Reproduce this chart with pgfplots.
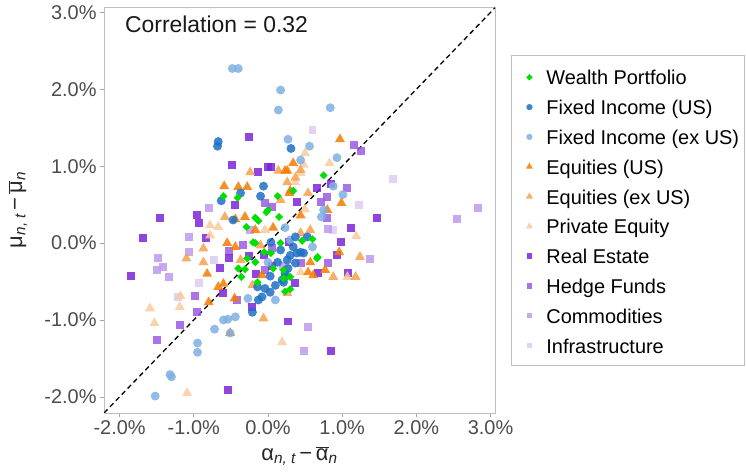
\documentclass[border=0pt]{standalone}
\usepackage{pgfplots}
\pgfplotsset{compat=1.18}
\usepackage{fontspec}
\setmainfont{Liberation Sans}
\definecolor{wp}{HTML}{00E000}
\definecolor{fius}{HTML}{1F6FC5}
\definecolor{fiex}{HTML}{7EB0E3}
\definecolor{equs}{HTML}{F57C00}
\definecolor{eqex}{HTML}{F5A04E}
\definecolor{pe}{HTML}{F9CA9C}
\definecolor{re}{HTML}{7B24D8}
\definecolor{hf}{HTML}{9C5AE4}
\definecolor{co}{HTML}{BE9AEE}
\definecolor{inf}{HTML}{DDCBF3}
\pgfplotsset{
  markleg/.style={legend image code/.code={\path[draw=none,fill=none] (0bp,-1bp) -- (29bp,-1bp); \draw[##1, only marks, mark repeat=2, mark phase=2, every mark/.append style={scale=0.7}] plot coordinates {(0bp,-1bp) (16bp,-1bp) (29bp,-1bp)};}},
  pt/.style={only marks, mark options={fill opacity=0.85, draw opacity=0}, markleg},
}
\begin{document}
\begin{tikzpicture}
\begin{axis}[
  scale only axis, width=391bp, height=406bp,
  xmin=-2.21, xmax=3.06, ymin=-2.21, ymax=3.07,
  xtick={-2,-1,0,1,2,3}, xticklabels={-2.0\%,-1.0\%,0.0\%,1.0\%,2.0\%,3.0\%},
  ytick={-2,-1,0,1,2,3}, yticklabels={-2.0\%,-1.0\%,0.0\%,1.0\%,2.0\%,3.0\%},
  xtick pos=bottom, ytick pos=left,
  tick align=outside, major tick length=4bp,
  tick style={black!35, line width=0.6bp},
  axis line style={black!25, line width=0.8bp},
  ticklabel style={font=\fontsize{20}{24}\selectfont, text=black!70},
  label style={font=\fontsize{22}{26}\selectfont, text=black!85},
  xlabel={α\textsubscript{\itshape n, t}\,−\,$\overline{\mbox{α}}$\textsubscript{\itshape n}},
  ylabel={μ\textsubscript{\itshape n, t}\,−\,$\overline{\mbox{μ}}$\textsubscript{\itshape n}},
  xlabel style={at={(axis description cs:0.5,-0.106)}, anchor=center},
  ylabel style={at={(axis description cs:-0.22,0.5)}, anchor=center},
  legend style={at={(1.041,0.882)}, anchor=north west, draw=black!25, line width=0.8bp,
    font=\fontsize{20}{24}\selectfont, inner xsep=2bp, inner ysep=7.5bp, row sep=2.8bp, column sep=1bp,
    nodes={text height=19bp, text depth=2bp, inner sep=3bp}},
  legend cell align=left,
  reverse legend,
]
\addplot[black, dash pattern=on 5bp off 3.5bp, line width=1.3bp, forget plot, sharp plot, no markers] coordinates {(-2.21,-2.21) (3.06,3.06)};

\addplot[pt, color=inf, mark=square*, mark size=4] coordinates {
(0.60,1.47) (1.23,0.49) (1.69,0.83) (0.87,0.17) (-0.93,-0.52) (-1.21,-0.70) (-0.73,-0.22)};
\addlegendentry{Infrastructure}

\addplot[pt, color=co, mark=square*, mark size=4] coordinates {
(2.55,0.31) (2.83,0.46) (1.37,-0.21) (0.54,-1.09) (0.48,-1.41) (0.81,0.18) (-0.79,0.46)
(-1.07,0.08) (-1.07,-0.12) (-1.48,-0.20) (-1.41,-0.31) (-1.49,-0.35) (-1.33,-0.44) (-0.24,0.17) (0.20,-0.30)};
\addlegendentry{Commodities}

\addplot[pt, color=hf, mark=square*, mark size=4] coordinates {
(1.16,1.28) (1.26,1.20) (1.06,0.72) (0.72,0.53) (0.80,0.60) (0.80,0.33) (-0.33,-0.03) (0.06,-0.07)
(0.81,-0.26) (-0.98,-0.69) (-0.95,-0.90) (-1.19,-1.07) (-1.49,-1.26) (0.44,-0.26) (-0.04,-0.35)
(-0.42,-0.74) (-0.04,0.52) (0.06,0.47) (-0.52,-0.10)};
\addlegendentry{Hedge Funds}

\addplot[pt, color=re, mark=square*, mark size=4] coordinates {
(-0.25,1.38) (-0.49,1.02) (-0.13,0.92) (0.00,0.99) (0.04,0.99) (-0.45,0.49) (-0.95,0.36) (-0.93,0.26)
(-1.45,0.33) (-1.69,0.07) (-0.83,0.07) (-0.25,-0.17) (-0.06,-0.16) (0.29,0.01) (-1.84,-0.43)
(-0.54,-1.91) (-0.64,-0.33) (-0.60,-0.65) (-0.16,-0.40) (-0.21,-0.83) (0.27,-1.02) (0.06,-0.30)
(0.37,-0.52) (0.66,0.72) (0.85,0.77) (0.39,0.53) (1.12,0.20) (0.99,0.01) (1.08,-0.39) (0.68,-0.39)
(0.93,-0.16) (0.85,-1.41) (1.47,0.33) (-0.52,-0.20)};
\addlegendentry{Real Estate}

\addplot[pt, color=pe, mark=triangle*, mark size=5.8] coordinates {
(-0.78,0.23) (-0.67,0.21) (-0.78,0.10) (-1.59,-0.85) (-1.53,-1.04) (-1.19,-0.83) (-1.18,-0.69)
(0.19,-1.29) (-1.09,-1.95) (0.83,1.04) (0.50,0.44) (1.19,0.09) (1.07,-0.44) (0.50,1.17) (0.48,1.02)
(0.37,0.79) (0.44,0.91) (0.44,-0.38) (-0.04,0.17)};
\addlegendentry{Private Equity}

\addplot[pt, color=eqex, mark=triangle*, mark size=5.8] coordinates {
(-0.24,0.92) (0.14,0.94) (-0.58,0.34) (-0.87,-0.07) (-1.10,-0.20) (-0.87,-0.25) (0.44,0.13) (0.54,0.65)
(1.24,-0.18) (0.88,-0.44) (1.18,-0.44) (-0.06,-0.98) (0.26,-0.65) (-0.21,-0.55) (0.37,0.85) (0.44,0.95)
(0.26,0.79) (0.17,0.56) (0.57,0.17) (-0.37,-0.22) (-0.10,-0.03)};
\addlegendentry{Equities (ex US)}

\addplot[pt, color=equs, mark=triangle*, mark size=5.8] coordinates {
(0.97,1.35) (0.26,0.94) (0.34,1.04) (-0.59,0.74) (-0.40,0.73) (-0.28,0.73) (0.30,0.68) (-0.44,0.31)
(-0.31,0.34) (-0.55,0.00) (-0.44,-0.05) (0.07,0.20) (-0.82,-0.40) (-0.67,-0.57) (-0.60,-0.53)
(-0.45,-0.72) (-0.80,-0.77) (-0.51,-1.17) (0.99,0.52) (0.80,0.43) (0.96,-0.12) (0.61,-0.42)
(0.54,-0.38) (0.77,-0.35) (0.44,0.36) (-0.17,0.17) (-0.08,-0.42) (0.57,-0.25) (0.29,0.65) (0.23,0.94)};
\addlegendentry{Equities (US)}

\addplot[pt, color=fiex, mark=*, mark size=4.5] coordinates {
(-0.48,2.27) (-0.40,2.27) (0.17,1.99) (0.14,1.73) (0.84,1.76) (0.27,1.35) (0.56,1.26) (0.44,1.08)
(0.93,1.11) (1.01,0.63) (0.88,0.74) (0.75,0.43) (0.72,0.34) (-0.60,-1.00) (-0.44,-0.96) (-0.54,-0.99)
(-0.72,-1.12) (-0.95,-1.30) (-0.95,-1.42) (-1.32,-1.71) (-1.30,-1.74) (-1.52,-1.99) (-0.51,-1.17)
(0.60,-0.05) (0.23,0.20) (0.30,0.04) (0.10,-0.74) (0.00,-0.25) (-0.27,-0.72)};
\addlegendentry{Fixed Income (ex US)}

\addplot[pt, color=fius, mark=*, mark size=4.5] coordinates {
(-0.67,1.32) (-0.68,1.26) (0.31,1.23) (-0.63,0.55) (-0.47,0.30) (-0.37,0.65) (-0.10,0.61) (-0.06,0.74)
(0.04,0.01) (0.03,-0.43) (-0.14,-0.57) (-0.04,-0.59) (-0.08,-0.70) (0.03,-0.64) (-0.13,-0.74)
(-0.21,-0.90) (0.37,0.08) (0.53,0.08) (0.34,-0.05) (0.44,-0.12) (0.30,-0.16) (0.37,-0.26) (0.26,-0.22)
(0.48,-0.13) (0.23,-0.44) (0.21,-0.51) (0.19,-0.48) (0.23,-0.39) (0.39,-0.13) (0.17,-0.09) (0.13,-0.25)
(0.27,-0.33) (0.10,-0.55)};
\addlegendentry{Fixed Income (US)}

\addplot[pt, color=wp, mark=square*, mark size=2.6, mark options={rotate=45}] coordinates {
(-0.60,0.61) (-0.41,0.59) (0.13,0.61) (0.34,0.68) (0.00,0.43) (-0.02,0.40) (-0.17,0.33) (-0.13,0.29)
(-0.29,0.21) (0.15,0.34) (0.17,0.00) (-0.17,0.00) (-0.20,0.01) (-0.28,-0.20) (-0.31,-0.34) (-0.36,-0.44)
(0.04,-0.13) (-0.17,-0.25) (0.23,-0.63) (0.30,-0.44) (-0.14,-0.51) (0.46,0.03) (0.60,0.05) (0.66,-0.20)
(0.21,-0.35) (0.75,0.88) (0.30,-0.60) (-0.40,-0.33) (-0.05,-0.12) (0.07,-0.33) (0.21,-0.46) (0.67,-0.18)};
\addlegendentry{Wealth Portfolio}

\node[anchor=west, font=\fontsize{23}{27}\selectfont, text=black!90] at (rel axis cs:0.045,0.958) {Correlation = 0.32};
\end{axis}
\path (current axis.south west) ++(-104bp,-61bp) rectangle ++(746bp,474bp);
\end{tikzpicture}
\end{document}
